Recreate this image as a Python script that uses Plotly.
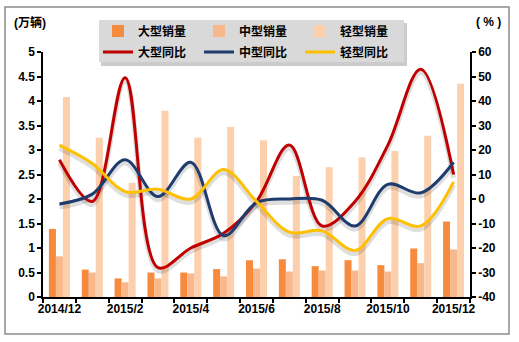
import plotly.graph_objects as go

# Monthly categories and the subset that gets a label
months = ["2014/12", "2015/1", "2015/2", "2015/3", "2015/4", "2015/5", "2015/6",
          "2015/7", "2015/8", "2015/9", "2015/10", "2015/11", "2015/12"]
month_labels = ["2014/12", "", "2015/2", "", "2015/4", "", "2015/6",
                "", "2015/8", "", "2015/10", "", "2015/12"]

# Sales volume (万辆)
large_sales = [1.39, 0.56, 0.38, 0.50, 0.50, 0.57, 0.75, 0.77, 0.63, 0.75, 0.65, 0.99, 1.54]
medium_sales = [0.83, 0.50, 0.30, 0.38, 0.48, 0.42, 0.58, 0.52, 0.54, 0.54, 0.52, 0.69, 0.97]
light_sales = [4.08, 3.25, 2.33, 3.80, 3.25, 3.47, 3.20, 2.47, 2.65, 2.85, 2.98, 3.29, 4.35]

# Year-on-year change (%)
large_yoy = [16, -1, 49.5, -28, -20, -14, -1, 22, -11, -1, 22, 53, 10]
medium_yoy = [-2, 2, 16, 1, 15, -15, -1.5, 0, -0.5, -11, 6, 2.5, 15]
light_yoy = [22, 14.5, 3, 4, 0, 12, -1, -13.5, -13, -21, -8, -11, 7]

# Axis ticks
left_ticks = [0, 0.5, 1, 1.5, 2, 2.5, 3, 3.5, 4, 4.5, 5]
right_ticks = [-40, -30, -20, -10, 0, 10, 20, 30, 40, 50, 60]
right_tick_text = [str(v) for v in right_ticks]

FONT = "Arial, 'Liberation Sans', 'Noto Sans CJK SC', sans-serif"

fig = go.Figure()

bar_specs = [
    ("大型销量", large_sales, "#F68B3D"),
    ("中型销量", medium_sales, "#F9B88B"),
    ("轻型销量", light_sales, "#FCD0AC"),
]
for name, vals, color in bar_specs:
    fig.add_trace(go.Bar(x=months, y=vals, name=name, marker=dict(color=color, line=dict(width=0)),
                         yaxis="y", legend="legend"))

line_specs = [
    ("大型同比", large_yoy, "#C00000"),
    ("中型同比", medium_yoy, "#1F3C6E"),
    ("轻型同比", light_yoy, "#FFC000"),
]
# soft drop shadows under the curves
for name, vals, color in line_specs:
    fig.add_trace(go.Scatter(x=months, y=[v - 1.3 for v in vals], mode="lines",
                             line=dict(color="rgba(0,0,0,0.13)", width=5, shape="spline", smoothing=1.0),
                             yaxis="y2", showlegend=False, hoverinfo="skip"))
for name, vals, color in line_specs:
    fig.add_trace(go.Scatter(x=months, y=vals, name=name, mode="lines",
                             line=dict(color=color, width=3, shape="spline", smoothing=1.0),
                             yaxis="y2", legend="legend2"))

L, R, T, B = 43, 49, 52, 45
W, H = 519, 342
pw, ph = W - L - R, H - T - B


def px_x(x):
    return (x - L) / pw


def px_y(y):
    return (H - B - y) / ph


legend_common = dict(orientation="h", x=px_x(98), xanchor="left", yanchor="middle",
                     bgcolor="rgba(0,0,0,0)", borderwidth=0, entrywidth=56,
                     font=dict(size=12, family=FONT, weight="bold"), traceorder="normal",
                     itemwidth=30)

fig.update_layout(
    width=W, height=H,
    margin=dict(l=L, r=R, t=T, b=B),
    paper_bgcolor="white", plot_bgcolor="white",
    font=dict(family=FONT, size=12, color="black", weight="bold"),
    barmode="group", bargap=0.36, bargroupgap=0,
    xaxis=dict(type="category", categoryorder="array", categoryarray=months,
               tickvals=months, ticktext=month_labels, tickson="boundaries",
               ticks="outside", ticklen=4, tickwidth=1.5, tickcolor="black",
               showline=True, linecolor="black", linewidth=1.5, showgrid=False,
               tickfont=dict(size=12, family=FONT, weight="bold"), tickangle=0),
    yaxis=dict(range=[0, 5], tickvals=left_ticks, ticks="outside", ticklen=4, tickwidth=1.5,
               tickcolor="black", showline=True, linecolor="black", linewidth=1.5,
               showgrid=False, zeroline=False, tickfont=dict(size=12, family=FONT, weight="bold")),
    yaxis2=dict(range=[-40, 60], overlaying="y", side="right", tickvals=right_ticks,
                ticktext=right_tick_text, ticks="outside", ticklen=4, tickwidth=1.5,
                tickcolor="black", showline=True, linecolor="black", linewidth=1.5,
                showgrid=False, zeroline=False, tickfont=dict(size=12, family=FONT, weight="bold")),
    legend=dict(legend_common, y=px_y(31)),
    legend2=dict(legend_common, y=px_y(52)),
    shapes=[
        # frame around the whole chart
        dict(type="rect", xref="paper", yref="paper",
             x0=px_x(5), x1=px_x(509), y0=px_y(334), y1=px_y(7),
             line=dict(color="#8C8C8C", width=1.5), fillcolor="rgba(0,0,0,0)", layer="above"),
        # legend panel shadow and background
        dict(type="rect", xref="paper", yref="paper",
             x0=px_x(101), x1=px_x(407), y0=px_y(66), y1=px_y(23),
             line=dict(width=0), fillcolor="rgba(0,0,0,0.20)", layer="above"),
        dict(type="rect", xref="paper", yref="paper",
             x0=px_x(99), x1=px_x(404), y0=px_y(62), y1=px_y(20),
             line=dict(width=0), fillcolor="#D9D9D9", layer="above"),
    ],
    annotations=[
        dict(text="(万辆)", xref="paper", yref="paper", x=px_x(12), y=px_y(22),
             xanchor="left", yanchor="middle", showarrow=False,
             font=dict(size=12, family=FONT, weight="bold")),
        dict(text="( % )", xref="paper", yref="paper", x=px_x(474), y=px_y(22),
             xanchor="left", yanchor="middle", showarrow=False,
             font=dict(size=12, family=FONT, weight="bold")),
    ],
)

fig.write_html("out.html")
